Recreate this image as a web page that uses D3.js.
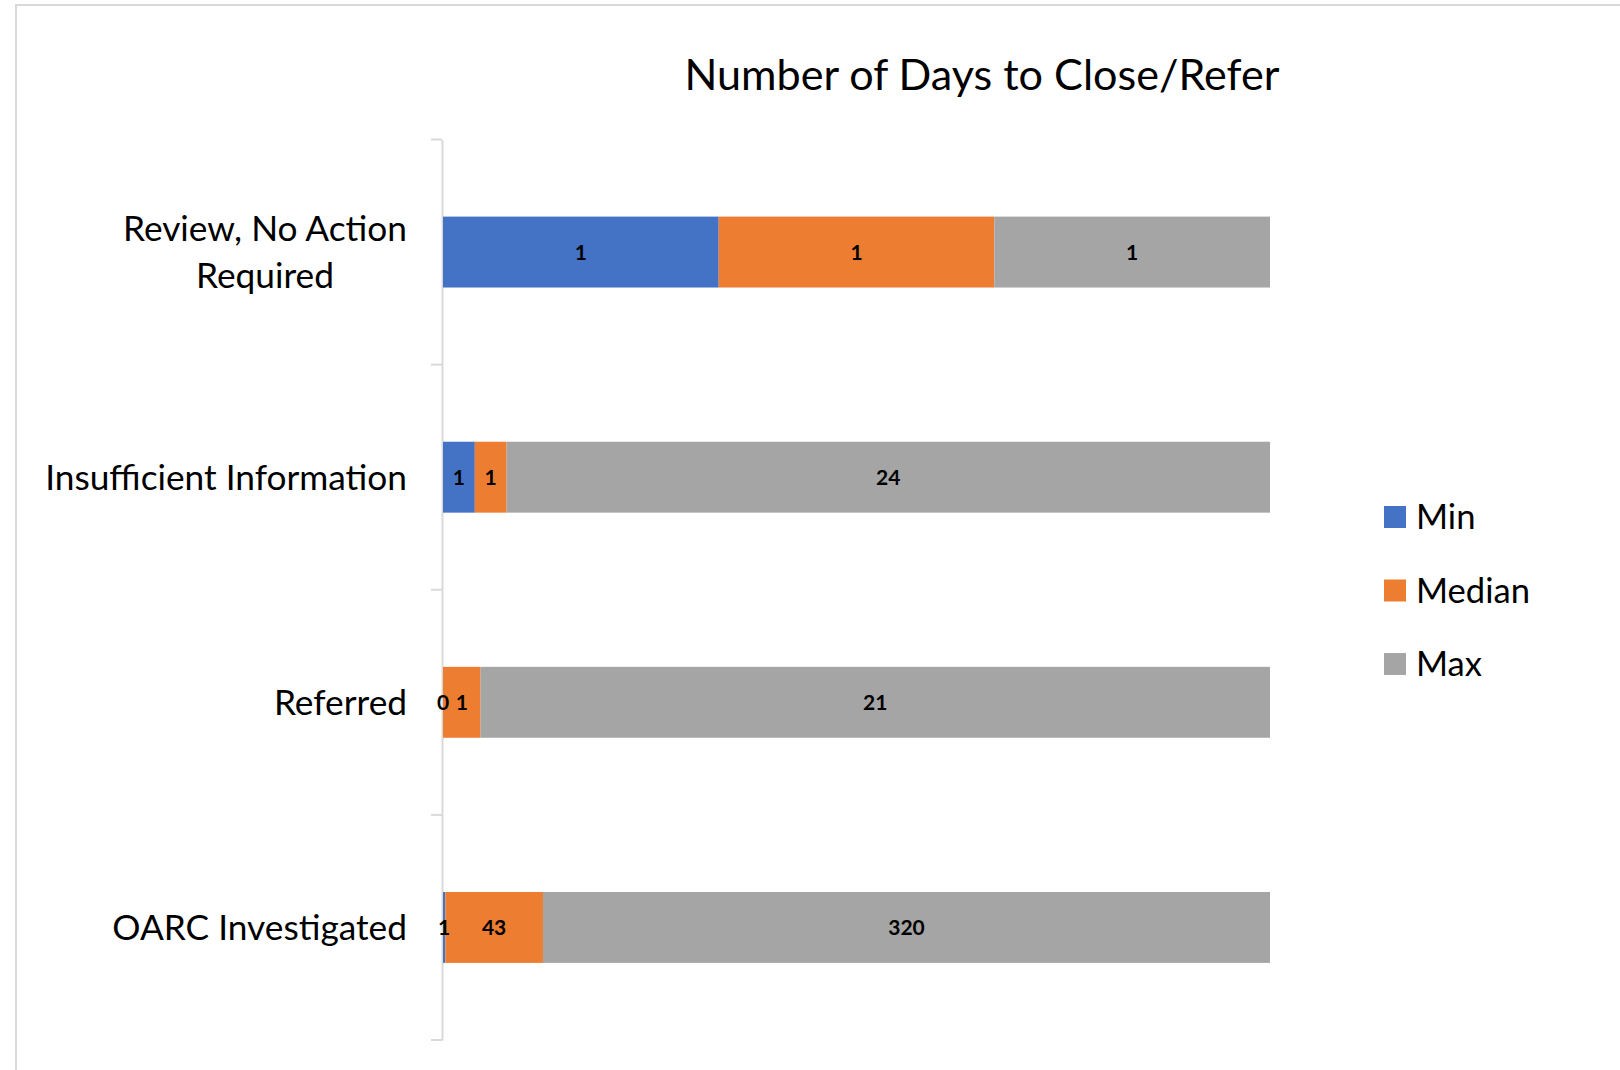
<!DOCTYPE html>
<html>
<head>
<meta charset="utf-8">
<script src="https://cdn.jsdelivr.net/npm/d3@7"></script>
<style>
  html, body { margin: 0; padding: 0; background: #fff; }
  svg { display: block; }
  text { font-family: Lato, "Open Sans", "Liberation Sans", sans-serif; }
</style>
</head>
<body>
<svg id="chart" width="1620" height="1070"></svg>
<script>
const chartTitle = "Number of Days to Close/Refer";
const categories = ["Review, No Action Required", "Insufficient Information", "Referred", "OARC Investigated"];
const seriesNames = ["Min", "Median", "Max"];
const minValues = [1, 1, 0, 1];
const medianValues = [1, 1, 1, 43];
const maxValues = [1, 24, 21, 320];
const seriesColors = ["#4472C4", "#ED7D31", "#A5A5A5"];

const rows = categories.map((c, i) => ({ category: c, Min: minValues[i], Median: medianValues[i], Max: maxValues[i] }));

const svg = d3.select("#chart");

// outer frame (top and left edges visible)
svg.append("path")
  .attr("d", "M16,1070 L16,5 L1620,5")
  .attr("fill", "none").attr("stroke", "#d9d9d9").attr("stroke-width", 2);

const plotLeft = 443, plotRight = 1270, plotTop = 139.5, plotBottom = 1040;

const x = d3.scaleLinear().domain([0, 1]).range([plotLeft, plotRight]);
const y = d3.scaleBand().domain(categories).range([plotTop, plotBottom]).padding(0);
const barFrac = 0.315;
const barH = y.bandwidth() * barFrac;

const stack = d3.stack().keys(seriesNames).offset(d3.stackOffsetExpand);
const stacked = stack(rows);

function fitFont(sel, targetWidth, startSize) {
  sel.style("font-size", startSize + "px");
  const w = sel.node().getComputedTextLength();
  const fs = startSize * targetWidth / w;
  sel.style("font-size", fs + "px");
  return fs;
}

// axis (drawn first so labels sit on top)
const axis = d3.axisLeft(y).tickSize(0).tickFormat("");
const gAxis = svg.append("g").attr("transform", `translate(${plotLeft - 1},0)`).call(axis);
gAxis.select(".domain").attr("stroke", "#d9d9d9").attr("stroke-width", 2);
const boundaries = categories.map(c => y(c)).concat([y.range()[1]]);
svg.append("g").selectAll("line").data(boundaries).enter().append("line")
  .attr("x1", plotLeft - 12).attr("x2", plotLeft - 1)
  .attr("y1", d => d).attr("y2", d => d)
  .attr("stroke", "#d9d9d9").attr("stroke-width", 2);

// bars
const gBars = svg.append("g");
stacked.forEach((s, si) => {
  gBars.selectAll(null).data(s).enter().append("rect")
    .attr("x", d => x(d[0]))
    .attr("y", d => y(d.data.category) + (y.bandwidth() - barH) / 2)
    .attr("width", d => Math.max(0, x(d[1]) - x(d[0])))
    .attr("height", barH)
    .attr("fill", seriesColors[si]);
});

// data labels
const gLabels = svg.append("g");
const labelSize = 21;
stacked.forEach((s, si) => {
  gLabels.selectAll(null).data(s).enter().append("text")
    .attr("x", d => (x(d[0]) + x(d[1])) / 2)
    .attr("y", d => y(d.data.category) + y.bandwidth() / 2 + labelSize * 0.36)
    .attr("text-anchor", "middle")
    .style("font-size", labelSize + "px")
    .style("font-weight", "bold")
    .attr("fill", "#000")
    .text(d => d.data[s.key]);
});

// category labels
const gCat = svg.append("g");
const probe = gCat.append("text").text("Insufficient Information");
const catSize = fitFont(probe, 362, 32);
probe.remove();
const lineGap = 47;
const labelRight = 407;
categories.forEach(c => {
  const cy = y(c) + y.bandwidth() / 2;
  const words = c.split(" ");
  const lines = [];
  let cur = "";
  const t = gCat.append("text").style("font-size", catSize + "px");
  words.forEach(w => {
    const trial = cur ? cur + " " + w : w;
    t.text(trial);
    if (t.node().getComputedTextLength() > 372 && cur) { lines.push(cur); cur = w; }
    else cur = trial;
  });
  lines.push(cur);
  // widest line width for centered block
  let maxW = 0;
  lines.forEach(ln => { t.text(ln); maxW = Math.max(maxW, t.node().getComputedTextLength()); });
  t.remove();
  const centerX = labelRight - maxW / 2;
  lines.forEach((ln, li) => {
    gCat.append("text")
      .attr("x", centerX)
      .attr("y", cy + (li - (lines.length - 1) / 2) * lineGap + catSize * 0.36)
      .attr("text-anchor", "middle")
      .style("font-size", catSize + "px")
      .attr("fill", "#000")
      .text(ln);
  });
});

// title
const title = svg.append("text")
  .attr("x", 982).attr("y", 90)
  .attr("text-anchor", "middle")
  .attr("fill", "#000")
  .text(chartTitle);
fitFont(title, 595, 42);

// legend
const gLeg = svg.append("g");
const legY0 = 517, legStep = 73.5;
const legProbe = gLeg.append("text").text("Median");
const legSize = fitFont(legProbe, 114, 32);
legProbe.remove();
seriesNames.forEach((n, i) => {
  const cy = legY0 + i * legStep;
  gLeg.append("rect").attr("x", 1384).attr("y", cy - 11).attr("width", 22).attr("height", 22).attr("fill", seriesColors[i]);
  gLeg.append("text").attr("x", 1416).attr("y", cy + legSize * 0.36)
    .style("font-size", legSize + "px").attr("fill", "#000").text(n);
});
</script>
</body>
</html>
